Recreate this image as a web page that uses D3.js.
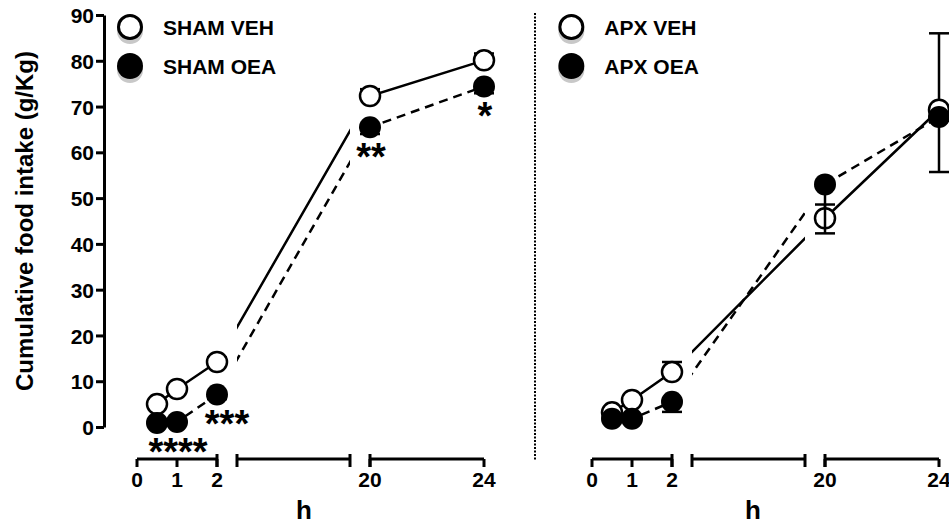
<!DOCTYPE html>
<html>
<head>
<meta charset="utf-8">
<script src="https://cdn.jsdelivr.net/npm/d3@7"></script>
<style>
  body { margin: 0; background: #fff; }
  svg { display: block; font-family: "Liberation Sans", Arial, sans-serif; font-weight: bold; }
</style>
</head>
<body>
<svg id="chart" width="949" height="524"></svg>
<script>
// time points (h)
var hours = [0.5, 1, 2, 20, 24];
var xTicks = [0, 1, 2, 20, 24];
var yTicks = [0, 10, 20, 30, 40, 50, 60, 70, 80, 90];

// SHAM panel
var shamVeh = [5.0, 8.3, 14.2, 72.3, 80.1];
var shamVehErr = [0.8, 0.8, 1.0, 1.5, 1.5];
var shamOea = [0.9, 1.1, 7.1, 65.5, 74.4];
var shamOeaErr = [0.5, 0.5, 1.0, 1.5, 1.5];
var shamStars = ["", "****", "***", "**", "*"];

// APX panel
var apxVeh = [3.2, 5.9, 12.0, 45.6, 69.3];
var apxVehErr = [0.5, 0.8, 2.2, 3.0, 16.7];   // drawn upward
var apxOea = [1.8, 1.8, 5.5, 53.0, 67.7];
var apxOeaErr = [0.5, 0.5, 2.2, 10.7, 12.0];  // drawn downward

var svg = d3.select("#chart");

var y = d3.scaleLinear().domain([0, 90]).range([427, 15]);
var gap = 20;

function panel(offset, veh, vehErr, oea, oeaErr, names, stars, showY, hX) {
    // broken x axis: 0-2 | ... | 20-24
    var x = d3.scaleLinear()
        .domain([0, 2, 20, 24])
        .range([137, 217, 370, 484].map(function(d) { return d + offset; }));

    var g = svg.append("g");
    var axisY = 459;

    // clip so lines vanish in the axis gaps
    var clipId = "clip" + offset;
    var clip = svg.append("clipPath").attr("id", clipId);
    [[x(0) - 40, x(2)], [x(2) + gap, x(20) - gap], [x(20), x(24) + 40]].forEach(function(r) {
        clip.append("rect").attr("x", r[0]).attr("y", 0).attr("width", r[1] - r[0]).attr("height", 524);
    });

    // x axis segments
    var segs = [[x(0), x(2)], [x(2) + gap, x(20) - gap], [x(20), x(24)]];
    segs.forEach(function(s, i) {
        g.append("line").attr("x1", s[0]).attr("x2", s[1]).attr("y1", axisY).attr("y2", axisY)
            .attr("stroke", "#000").attr("stroke-width", 3);
        // break markers at the inner ends
        if (i > 0) g.append("line").attr("x1", s[0]).attr("x2", s[0]).attr("y1", axisY - 5).attr("y2", axisY + 8)
            .attr("stroke", "#000").attr("stroke-width", 3);
        if (i < 2) g.append("line").attr("x1", s[1]).attr("x2", s[1]).attr("y1", axisY - 5).attr("y2", axisY + 8)
            .attr("stroke", "#000").attr("stroke-width", 3);
    });
    xTicks.forEach(function(t) {
        g.append("line").attr("x1", x(t)).attr("x2", x(t)).attr("y1", axisY).attr("y2", axisY + 8)
            .attr("stroke", "#000").attr("stroke-width", 3);
        g.append("text").attr("x", x(t)).attr("y", 487).attr("text-anchor", "middle")
            .attr("font-size", 21).text(t);
    });
    g.append("text").attr("x", hX).attr("y", 519).attr("text-anchor", "middle")
        .attr("font-size", 26).text("h");

    if (showY) {
        var yAxis = g.append("g").attr("transform", "translate(104,0)")
            .call(d3.axisLeft(y).tickValues(yTicks).tickSize(8).tickSizeOuter(0).tickPadding(2));
        yAxis.select(".domain").attr("stroke-width", 3);
        yAxis.selectAll(".tick line").attr("stroke-width", 3);
        yAxis.selectAll("text").attr("font-size", 21).attr("font-family", null).attr("font-weight", "bold")
            .attr("dy", "0.36em");
        g.append("text")
            .attr("transform", "translate(33," + ((y(0) + y(90)) / 2) + ") rotate(-90)")
            .attr("text-anchor", "middle").attr("font-size", 24)
            .text("Cumulative food intake (g/Kg)");
    }

    var line = d3.line().x(function(d, i) { return x(hours[i]); }).y(function(d) { return y(d); });

    // VEH series: solid, open circles, error up
    g.append("path").datum(veh).attr("d", line).attr("fill", "none").attr("stroke", "#000")
        .attr("stroke-width", 2.5).attr("clip-path", "url(#" + clipId + ")");
    var ve = g.selectAll(".ve").data(veh).enter().append("g");
    ve.append("line").attr("x1", function(d, i) { return x(hours[i]); })
        .attr("x2", function(d, i) { return x(hours[i]); })
        .attr("y1", function(d) { return y(d); })
        .attr("y2", function(d, i) { return y(d + vehErr[i]); })
        .attr("stroke", "#000").attr("stroke-width", 2.5);
    ve.append("line").attr("x1", function(d, i) { return x(hours[i]) - 10; })
        .attr("x2", function(d, i) { return x(hours[i]) + 10; })
        .attr("y1", function(d, i) { return y(d + vehErr[i]); })
        .attr("y2", function(d, i) { return y(d + vehErr[i]); })
        .attr("stroke", "#000").attr("stroke-width", 2.5);
    g.selectAll(".vm").data(veh).enter().append("circle")
        .attr("cx", function(d, i) { return x(hours[i]); }).attr("cy", function(d) { return y(d); })
        .attr("r", 10).attr("fill", "#fff").attr("stroke", "#000").attr("stroke-width", 2.5);

    // OEA series: dashed, filled circles, error down
    g.append("path").datum(oea).attr("d", line).attr("fill", "none").attr("stroke", "#000")
        .attr("stroke-width", 2.5).attr("stroke-dasharray", "9,6").attr("clip-path", "url(#" + clipId + ")");
    var oe = g.selectAll(".oe").data(oea).enter().append("g");
    oe.append("line").attr("x1", function(d, i) { return x(hours[i]); })
        .attr("x2", function(d, i) { return x(hours[i]); })
        .attr("y1", function(d) { return y(d); })
        .attr("y2", function(d, i) { return y(d - oeaErr[i]); })
        .attr("stroke", "#000").attr("stroke-width", 2.5);
    oe.append("line").attr("x1", function(d, i) { return x(hours[i]) - 10; })
        .attr("x2", function(d, i) { return x(hours[i]) + 10; })
        .attr("y1", function(d, i) { return y(d - oeaErr[i]); })
        .attr("y2", function(d, i) { return y(d - oeaErr[i]); })
        .attr("stroke", "#000").attr("stroke-width", 2.5);
    g.selectAll(".om").data(oea).enter().append("circle")
        .attr("cx", function(d, i) { return x(hours[i]); }).attr("cy", function(d) { return y(d); })
        .attr("r", 11).attr("fill", "#000");

    // significance stars under OEA points
    if (stars) {
        g.selectAll(".st").data(oea).enter().append("text")
            .attr("x", function(d, i) { return x(hours[i]) + (hours[i] === 2 ? 10 : 1); })
            .attr("y", function(d) { return y(d) + 43; })
            .attr("text-anchor", "middle").attr("font-size", 38)
            .text(function(d, i) { return stars[i]; });
    }

    // legend
    var lx = 130 + offset * 0.97;
    var lg = g.append("g");
    [0, 1].forEach(function(k) {
        var cy = 27 + k * 39;
        lg.append("circle").attr("cx", lx).attr("cy", cy + 4).attr("r", 13).attr("fill", "#c8c8c8");
        lg.append("circle").attr("cx", lx).attr("cy", cy).attr("r", k ? 13 : 11.5)
            .attr("fill", k ? "#000" : "#fff").attr("stroke", "#000").attr("stroke-width", k ? 0 : 3);
        lg.append("text").attr("x", lx + 33).attr("y", cy + 8).attr("font-size", 21).text(names[k]);
    });
}

panel(0, shamVeh, shamVehErr, shamOea, shamOeaErr, ["SHAM VEH", "SHAM OEA"], shamStars, true, 304);
panel(455, apxVeh, apxVehErr, apxOea, apxOeaErr, ["APX VEH", "APX OEA"], null, false, 753);

// dotted divider between panels
svg.append("line").attr("x1", 535).attr("x2", 535).attr("y1", 13).attr("y2", 461)
    .attr("stroke", "#000").attr("stroke-width", 2).attr("stroke-dasharray", "2,1.5");
</script>
</body>
</html>
